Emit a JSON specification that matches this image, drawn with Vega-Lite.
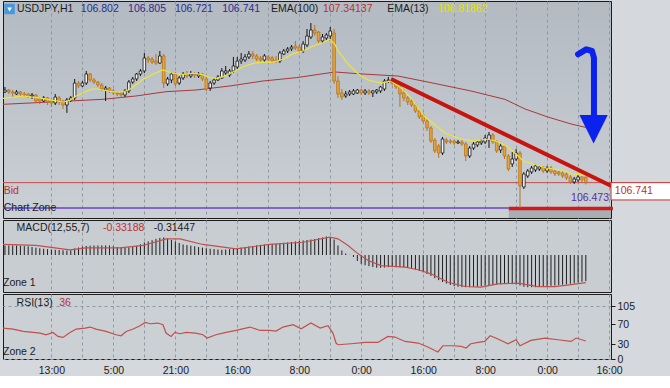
{
"$schema": "https://vega.github.io/schema/vega-lite/v6.json",
"padding": 0,
"background": "#d5d9dd",
"spacing": 0,
"config": {
 "view": {"stroke": "#1c1c1c", "strokeWidth": 1},
 "axis": {"labelFont": "Liberation Sans", "labelFontSize": 10.5, "labelColor": "#1c1c1c", "tickColor": "#1c1c1c", "domainColor": "#1c1c1c", "gridColor": "#8e99a4", "gridDash": [3, 3], "gridWidth": 1, "gridOpacity": 1},
 "text": {"font": "Liberation Sans", "fontSize": 10.5, "align": "left", "baseline": "middle"}
},
"datasets": {
 "bars": [
{"t":0,"o":107.726,"h":107.780,"l":107.715,"c":107.747,"m":0.115},
{"t":1,"o":107.747,"h":107.758,"l":107.704,"c":107.726,"m":0.115},
{"t":2,"o":107.726,"h":107.747,"l":107.671,"c":107.715,"m":0.115},
{"t":3,"o":107.704,"h":107.747,"l":107.693,"c":107.726,"m":0.115},
{"t":4,"o":107.726,"h":107.737,"l":107.682,"c":107.704,"m":0.111},
{"t":5,"o":107.704,"h":107.726,"l":107.671,"c":107.693,"m":0.107},
{"t":6,"o":107.704,"h":107.715,"l":107.661,"c":107.682,"m":0.105},
{"t":7,"o":107.682,"h":107.715,"l":107.650,"c":107.693,"m":0.096},
{"t":8,"o":107.693,"h":107.704,"l":107.606,"c":107.628,"m":0.088},
{"t":9,"o":107.650,"h":107.671,"l":107.595,"c":107.628,"m":0.081},
{"t":10,"o":107.628,"h":107.682,"l":107.617,"c":107.661,"m":0.075},
{"t":11,"o":107.661,"h":107.671,"l":107.584,"c":107.617,"m":0.070},
{"t":12,"o":107.628,"h":107.650,"l":107.563,"c":107.606,"m":0.066},
{"t":13,"o":107.606,"h":107.704,"l":107.584,"c":107.671,"m":0.063},
{"t":14,"o":107.661,"h":107.682,"l":107.584,"c":107.617,"m":0.060},
{"t":15,"o":107.617,"h":107.639,"l":107.541,"c":107.584,"m":0.057},
{"t":16,"o":107.584,"h":107.661,"l":107.498,"c":107.639,"m":0.054},
{"t":17,"o":107.639,"h":107.682,"l":107.617,"c":107.661,"m":0.058},
{"t":18,"o":107.661,"h":107.867,"l":107.639,"c":107.823,"m":0.078},
{"t":19,"o":107.823,"h":107.845,"l":107.769,"c":107.791,"m":0.090},
{"t":20,"o":107.791,"h":107.845,"l":107.780,"c":107.823,"m":0.100},
{"t":21,"o":107.823,"h":107.954,"l":107.802,"c":107.921,"m":0.109},
{"t":22,"o":107.921,"h":107.932,"l":107.834,"c":107.856,"m":0.112},
{"t":23,"o":107.856,"h":107.878,"l":107.813,"c":107.834,"m":0.115},
{"t":24,"o":107.834,"h":107.845,"l":107.780,"c":107.802,"m":0.115},
{"t":25,"o":107.802,"h":107.823,"l":107.737,"c":107.758,"m":0.115},
{"t":26,"o":107.747,"h":107.791,"l":107.628,"c":107.769,"m":0.115},
{"t":27,"o":107.769,"h":107.780,"l":107.715,"c":107.737,"m":0.115},
{"t":28,"o":107.737,"h":107.758,"l":107.693,"c":107.715,"m":0.105},
{"t":29,"o":107.715,"h":107.737,"l":107.682,"c":107.704,"m":0.096},
{"t":30,"o":107.715,"h":107.726,"l":107.661,"c":107.693,"m":0.090},
{"t":31,"o":107.693,"h":107.758,"l":107.671,"c":107.737,"m":0.087},
{"t":32,"o":107.737,"h":107.856,"l":107.715,"c":107.834,"m":0.093},
{"t":33,"o":107.834,"h":107.889,"l":107.813,"c":107.867,"m":0.099},
{"t":34,"o":107.867,"h":107.932,"l":107.845,"c":107.921,"m":0.109},
{"t":35,"o":107.921,"h":107.975,"l":107.899,"c":107.954,"m":0.129},
{"t":36,"o":107.954,"h":108.149,"l":107.932,"c":108.095,"m":0.151},
{"t":37,"o":108.095,"h":108.117,"l":108.040,"c":108.073,"m":0.163},
{"t":38,"o":108.084,"h":108.106,"l":108.030,"c":108.051,"m":0.178},
{"t":39,"o":108.062,"h":108.138,"l":108.019,"c":108.040,"m":0.195},
{"t":40,"o":108.040,"h":108.171,"l":108.030,"c":108.117,"m":0.206},
{"t":41,"o":108.117,"h":108.138,"l":107.769,"c":107.823,"m":0.212},
{"t":42,"o":107.813,"h":107.889,"l":107.791,"c":107.867,"m":0.198},
{"t":43,"o":107.856,"h":107.943,"l":107.823,"c":107.921,"m":0.181},
{"t":44,"o":107.921,"h":107.943,"l":107.791,"c":107.813,"m":0.164},
{"t":45,"o":107.823,"h":107.899,"l":107.802,"c":107.878,"m":0.145},
{"t":46,"o":107.878,"h":107.943,"l":107.856,"c":107.921,"m":0.127},
{"t":47,"o":107.921,"h":107.954,"l":107.878,"c":107.899,"m":0.119},
{"t":48,"o":107.899,"h":107.954,"l":107.878,"c":107.921,"m":0.112},
{"t":49,"o":107.921,"h":107.943,"l":107.878,"c":107.910,"m":0.105},
{"t":50,"o":107.899,"h":107.943,"l":107.878,"c":107.921,"m":0.096},
{"t":51,"o":107.921,"h":107.932,"l":107.845,"c":107.867,"m":0.089},
{"t":52,"o":107.867,"h":107.889,"l":107.737,"c":107.758,"m":0.082},
{"t":53,"o":107.769,"h":107.845,"l":107.737,"c":107.823,"m":0.075},
{"t":54,"o":107.823,"h":107.878,"l":107.802,"c":107.856,"m":0.071},
{"t":55,"o":107.856,"h":107.910,"l":107.845,"c":107.889,"m":0.066},
{"t":56,"o":107.878,"h":107.986,"l":107.867,"c":107.954,"m":0.063},
{"t":57,"o":107.932,"h":108.008,"l":107.910,"c":107.954,"m":0.066},
{"t":58,"o":107.910,"h":107.975,"l":107.889,"c":107.954,"m":0.070},
{"t":59,"o":107.954,"h":108.106,"l":107.932,"c":108.008,"m":0.074},
{"t":60,"o":107.997,"h":108.106,"l":107.975,"c":108.062,"m":0.077},
{"t":61,"o":108.062,"h":108.149,"l":108.030,"c":108.084,"m":0.089},
{"t":62,"o":108.073,"h":108.138,"l":108.051,"c":108.106,"m":0.095},
{"t":63,"o":108.106,"h":108.171,"l":108.084,"c":108.138,"m":0.102},
{"t":64,"o":108.138,"h":108.171,"l":108.084,"c":108.117,"m":0.109},
{"t":65,"o":108.117,"h":108.138,"l":108.062,"c":108.084,"m":0.116},
{"t":66,"o":108.095,"h":108.117,"l":108.051,"c":108.073,"m":0.122},
{"t":67,"o":108.073,"h":108.138,"l":108.051,"c":108.117,"m":0.127},
{"t":68,"o":108.106,"h":108.127,"l":108.062,"c":108.084,"m":0.130},
{"t":69,"o":108.095,"h":108.117,"l":108.040,"c":108.062,"m":0.134},
{"t":70,"o":108.073,"h":108.117,"l":108.040,"c":108.062,"m":0.135},
{"t":71,"o":108.062,"h":108.171,"l":108.040,"c":108.149,"m":0.141},
{"t":72,"o":108.138,"h":108.193,"l":108.127,"c":108.171,"m":0.147},
{"t":73,"o":108.171,"h":108.214,"l":108.149,"c":108.193,"m":0.151},
{"t":74,"o":108.193,"h":108.236,"l":108.171,"c":108.214,"m":0.157},
{"t":75,"o":108.225,"h":108.280,"l":108.182,"c":108.204,"m":0.163},
{"t":76,"o":108.214,"h":108.236,"l":108.149,"c":108.171,"m":0.169},
{"t":77,"o":108.171,"h":108.280,"l":108.149,"c":108.247,"m":0.175},
{"t":78,"o":108.236,"h":108.410,"l":108.214,"c":108.334,"m":0.181},
{"t":79,"o":108.323,"h":108.475,"l":108.301,"c":108.399,"m":0.187},
{"t":80,"o":108.399,"h":108.453,"l":108.334,"c":108.366,"m":0.193},
{"t":81,"o":108.377,"h":108.388,"l":108.258,"c":108.280,"m":0.203},
{"t":82,"o":108.280,"h":108.356,"l":108.258,"c":108.323,"m":0.211},
{"t":83,"o":108.312,"h":108.366,"l":108.290,"c":108.345,"m":0.223},
{"t":84,"o":108.334,"h":108.432,"l":108.280,"c":108.388,"m":0.217},
{"t":85,"o":108.366,"h":108.410,"l":107.813,"c":107.845,"m":0.187},
{"t":86,"o":107.845,"h":107.899,"l":107.661,"c":107.704,"m":0.115},
{"t":87,"o":107.715,"h":107.758,"l":107.639,"c":107.671,"m":0.054},
{"t":88,"o":107.682,"h":107.737,"l":107.661,"c":107.704,"m":0.018},
{"t":89,"o":107.704,"h":107.747,"l":107.682,"c":107.726,"m":0.002},
{"t":90,"o":107.704,"h":107.758,"l":107.693,"c":107.737,"m":-0.024},
{"t":91,"o":107.715,"h":107.758,"l":107.704,"c":107.747,"m":-0.072},
{"t":92,"o":107.747,"h":107.758,"l":107.693,"c":107.715,"m":-0.106},
{"t":93,"o":107.715,"h":107.758,"l":107.693,"c":107.737,"m":-0.123},
{"t":94,"o":107.737,"h":107.758,"l":107.693,"c":107.715,"m":-0.134},
{"t":95,"o":107.715,"h":107.747,"l":107.671,"c":107.737,"m":-0.145},
{"t":96,"o":107.726,"h":107.758,"l":107.704,"c":107.747,"m":-0.154},
{"t":97,"o":107.737,"h":107.791,"l":107.715,"c":107.780,"m":-0.154},
{"t":98,"o":107.758,"h":107.867,"l":107.737,"c":107.845,"m":-0.151},
{"t":99,"o":107.845,"h":107.889,"l":107.823,"c":107.856,"m":-0.147},
{"t":100,"o":107.856,"h":107.867,"l":107.802,"c":107.823,"m":-0.147},
{"t":101,"o":107.823,"h":107.845,"l":107.758,"c":107.780,"m":-0.147},
{"t":102,"o":107.780,"h":107.802,"l":107.563,"c":107.704,"m":-0.147},
{"t":103,"o":107.715,"h":107.758,"l":107.628,"c":107.661,"m":-0.150},
{"t":104,"o":107.661,"h":107.682,"l":107.584,"c":107.617,"m":-0.152},
{"t":105,"o":107.628,"h":107.661,"l":107.563,"c":107.584,"m":-0.160},
{"t":106,"o":107.584,"h":107.606,"l":107.498,"c":107.519,"m":-0.176},
{"t":107,"o":107.519,"h":107.541,"l":107.432,"c":107.454,"m":-0.192},
{"t":108,"o":107.476,"h":107.498,"l":107.389,"c":107.411,"m":-0.209},
{"t":109,"o":107.411,"h":107.432,"l":107.302,"c":107.335,"m":-0.229},
{"t":110,"o":107.335,"h":107.356,"l":107.172,"c":107.193,"m":-0.252},
{"t":111,"o":107.204,"h":107.226,"l":107.063,"c":107.085,"m":-0.279},
{"t":112,"o":107.139,"h":107.161,"l":107.009,"c":107.063,"m":-0.303},
{"t":113,"o":107.063,"h":107.237,"l":107.041,"c":107.215,"m":-0.326},
{"t":114,"o":107.204,"h":107.226,"l":107.161,"c":107.183,"m":-0.344},
{"t":115,"o":107.193,"h":107.215,"l":107.161,"c":107.183,"m":-0.361},
{"t":116,"o":107.193,"h":107.204,"l":107.150,"c":107.172,"m":-0.374},
{"t":117,"o":107.172,"h":107.204,"l":107.161,"c":107.183,"m":-0.382},
{"t":118,"o":107.183,"h":107.204,"l":107.139,"c":107.161,"m":-0.387},
{"t":119,"o":107.161,"h":107.183,"l":106.976,"c":107.030,"m":-0.388},
{"t":120,"o":107.030,"h":107.139,"l":107.009,"c":107.117,"m":-0.388},
{"t":121,"o":107.117,"h":107.183,"l":107.096,"c":107.161,"m":-0.385},
{"t":122,"o":107.150,"h":107.204,"l":107.128,"c":107.183,"m":-0.381},
{"t":123,"o":107.172,"h":107.215,"l":107.150,"c":107.193,"m":-0.376},
{"t":124,"o":107.183,"h":107.259,"l":107.161,"c":107.226,"m":-0.371},
{"t":125,"o":107.204,"h":107.291,"l":107.117,"c":107.259,"m":-0.368},
{"t":126,"o":107.259,"h":107.280,"l":107.161,"c":107.183,"m":-0.363},
{"t":127,"o":107.183,"h":107.204,"l":107.063,"c":107.085,"m":-0.357},
{"t":128,"o":107.096,"h":107.172,"l":107.063,"c":107.139,"m":-0.353},
{"t":129,"o":107.139,"h":107.150,"l":106.998,"c":107.030,"m":-0.350},
{"t":130,"o":107.030,"h":107.052,"l":106.868,"c":106.889,"m":-0.347},
{"t":131,"o":106.944,"h":107.074,"l":106.911,"c":106.998,"m":-0.352},
{"t":132,"o":106.998,"h":107.107,"l":106.976,"c":107.063,"m":-0.357},
{"t":133,"o":107.063,"h":107.085,"l":106.466,"c":106.705,"m":-0.368},
{"t":134,"o":106.694,"h":106.857,"l":106.672,"c":106.835,"m":-0.383},
{"t":135,"o":106.813,"h":106.889,"l":106.792,"c":106.868,"m":-0.388},
{"t":136,"o":106.857,"h":106.922,"l":106.835,"c":106.900,"m":-0.388},
{"t":137,"o":106.879,"h":106.944,"l":106.857,"c":106.922,"m":-0.388},
{"t":138,"o":106.889,"h":106.922,"l":106.868,"c":106.911,"m":-0.383},
{"t":139,"o":106.911,"h":106.922,"l":106.846,"c":106.868,"m":-0.379},
{"t":140,"o":106.868,"h":106.922,"l":106.846,"c":106.900,"m":-0.375},
{"t":141,"o":106.900,"h":106.922,"l":106.835,"c":106.857,"m":-0.371},
{"t":142,"o":106.868,"h":106.889,"l":106.813,"c":106.835,"m":-0.368},
{"t":143,"o":106.857,"h":106.868,"l":106.813,"c":106.835,"m":-0.363},
{"t":144,"o":106.846,"h":106.868,"l":106.792,"c":106.813,"m":-0.358},
{"t":145,"o":106.835,"h":106.857,"l":106.770,"c":106.792,"m":-0.353},
{"t":146,"o":106.803,"h":106.824,"l":106.727,"c":106.748,"m":-0.347},
{"t":147,"o":106.748,"h":106.803,"l":106.727,"c":106.781,"m":-0.341},
{"t":148,"o":106.770,"h":106.824,"l":106.748,"c":106.803,"m":-0.330},
{"t":149,"o":106.803,"h":106.813,"l":106.737,"c":106.770,"m":-0.322},
{"t":150,"o":106.802,"h":106.805,"l":106.721,"c":106.741,"m":-0.314}
 ],
 "ema13": [
{"t":-0.5,"p":107.657},{"t":4.7,"p":107.682},{"t":9.8,"p":107.657},{"t":12.4,"p":107.635},{"t":15,"p":107.617},{"t":16.8,"p":107.635},{"t":18.4,"p":107.682},{"t":20.2,"p":107.718},{"t":22,"p":107.751},{"t":23.5,"p":107.761},{"t":25.3,"p":107.747},{"t":27.9,"p":107.726},{"t":30.5,"p":107.726},{"t":32.3,"p":107.755},{"t":33.8,"p":107.802},{"t":35.7,"p":107.864},{"t":38.2,"p":107.918},{"t":40.8,"p":107.965},{"t":43.4,"p":107.929},{"t":46,"p":107.918},{"t":48.6,"p":107.929},{"t":51.1,"p":107.914},{"t":53,"p":107.881},{"t":54.5,"p":107.874},{"t":56.3,"p":107.892},{"t":58.9,"p":107.943},{"t":61.5,"p":108.0},{"t":64.1,"p":108.037},{"t":66.6,"p":108.051},{"t":69.2,"p":108.051},{"t":71.8,"p":108.081},{"t":74.4,"p":108.142},{"t":77,"p":108.171},{"t":79.6,"p":108.225},{"t":82.1,"p":108.261},{"t":83.9,"p":108.298},{"t":85.2,"p":108.244},{"t":86,"p":108.171},{"t":88.6,"p":108.03},{"t":91.2,"p":107.921},{"t":93.8,"p":107.856},{"t":97.1,"p":107.823},{"t":99.7,"p":107.845},{"t":102.3,"p":107.769},{"t":104.9,"p":107.661},{"t":106.7,"p":107.552},{"t":108.5,"p":107.454},{"t":111.1,"p":107.367},{"t":113.6,"p":107.28},{"t":117.8,"p":107.215},{"t":121.4,"p":107.193},{"t":124.2,"p":107.215},{"t":126.8,"p":107.193},{"t":129.4,"p":107.139},{"t":132,"p":107.052},{"t":133.8,"p":106.976},{"t":136.4,"p":106.944},{"t":139.7,"p":106.9},{"t":143.3,"p":106.879},{"t":146.7,"p":106.835},{"t":150,"p":106.819}
 ],
 "ema100": [
{"t":-0.5,"p":107.592},{"t":8,"p":107.609},{"t":16.8,"p":107.628},{"t":25.3,"p":107.646},{"t":33.8,"p":107.682},{"t":41.6,"p":107.729},{"t":49.3,"p":107.747},{"t":58.1,"p":107.791},{"t":66.6,"p":107.845},{"t":75.2,"p":107.881},{"t":85.2,"p":107.943},{"t":91.2,"p":107.924},{"t":101.5,"p":107.899},{"t":110,"p":107.827},{"t":120.3,"p":107.737},{"t":129.1,"p":107.646},{"t":134.3,"p":107.541},{"t":140.2,"p":107.454},{"t":146.2,"p":107.378},{"t":150,"p":107.341}
 ],
 "signal": [
{"t":-0.5,"v":0.127},{"t":8,"v":0.115},{"t":16.8,"v":0.063},{"t":20.9,"v":0.087},{"t":29.7,"v":0.087},{"t":35.7,"v":0.115},{"t":41.6,"v":0.195},{"t":45.2,"v":0.195},{"t":51.1,"v":0.127},{"t":59.7,"v":0.075},{"t":68.4,"v":0.127},{"t":77,"v":0.154},{"t":83.9,"v":0.215},{"t":86,"v":0.195},{"t":88.6,"v":0.115},{"t":91.2,"v":0.014},{"t":93.8,"v":-0.066},{"t":97.1,"v":-0.127},{"t":103.3,"v":-0.147},{"t":106.7,"v":-0.178},{"t":110,"v":-0.227},{"t":114.4,"v":-0.328},{"t":118.8,"v":-0.38},{"t":122.9,"v":-0.388},{"t":127.3,"v":-0.347},{"t":132.5,"v":-0.34},{"t":137.6,"v":-0.38},{"t":142,"v":-0.38},{"t":146.2,"v":-0.356},{"t":150,"v":-0.332}
 ],
 "rsi": [
{"t":-0.5,"v":61.9},{"t":2.1,"v":59.9},{"t":4.7,"v":55.1},{"t":7.3,"v":53.1},{"t":9.1,"v":51.9},{"t":10.6,"v":48.5},{"t":12.4,"v":53.1},{"t":13.7,"v":45.1},{"t":15,"v":43.1},{"t":16.8,"v":53.1},{"t":18.4,"v":59.9},{"t":20.7,"v":61.9},{"t":22,"v":63.9},{"t":23.5,"v":59.9},{"t":26.1,"v":55.1},{"t":28.7,"v":48.5},{"t":30,"v":46.5},{"t":31.3,"v":55.1},{"t":33.1,"v":59.9},{"t":34.9,"v":66.5},{"t":36.2,"v":73.1},{"t":37.5,"v":70.5},{"t":39.5,"v":71.9},{"t":40.8,"v":68.5},{"t":41.6,"v":51.9},{"t":42.9,"v":45.1},{"t":43.9,"v":53.1},{"t":45.2,"v":50.5},{"t":46.8,"v":53.1},{"t":49.3,"v":51.9},{"t":51.1,"v":48.5},{"t":52.2,"v":41.9},{"t":54.5,"v":48.5},{"t":57.1,"v":53.1},{"t":59.7,"v":57.1},{"t":63.3,"v":63.9},{"t":65.9,"v":57.1},{"t":68.4,"v":57.1},{"t":70,"v":55.9},{"t":71.8,"v":63.9},{"t":74.4,"v":68.5},{"t":76.5,"v":60.5},{"t":79,"v":71.9},{"t":81.4,"v":61.9},{"t":83.4,"v":66.5},{"t":84.7,"v":51.9},{"t":85.5,"v":31.9},{"t":86,"v":28.5},{"t":89.4,"v":30.5},{"t":93,"v":33.1},{"t":96.3,"v":33.1},{"t":98.9,"v":45.1},{"t":100.7,"v":43.9},{"t":103.3,"v":35.1},{"t":106.7,"v":31.9},{"t":109.2,"v":24},{"t":111.8,"v":14},{"t":113.1,"v":26.5},{"t":115.7,"v":26.5},{"t":117.8,"v":25.1},{"t":119.1,"v":22},{"t":120.3,"v":30.5},{"t":122.2,"v":33.1},{"t":123.9,"v":35.1},{"t":125.3,"v":46.5},{"t":127.3,"v":39.9},{"t":129.9,"v":30.5},{"t":132,"v":38.5},{"t":133,"v":26.5},{"t":135.8,"v":37.1},{"t":139.5,"v":41.9},{"t":142.8,"v":38.5},{"t":146.2,"v":35.1},{"t":147.5,"v":41.9},{"t":150,"v":36}
 ],
 "mainNotes": [
{"t":3.1,"p":108.627,"txt":"USDJPY,H1","kind":"dark"},
{"t":19.6,"p":108.627,"txt":"106.802","kind":"blue"},
{"t":31.8,"p":108.627,"txt":"106.805","kind":"blue"},
{"t":43.9,"p":108.627,"txt":"106.721","kind":"blue"},
{"t":56.1,"p":108.627,"txt":"106.741","kind":"blue"},
{"t":68.7,"p":108.627,"txt":"EMA(100)","kind":"dark"},
{"t":82.1,"p":108.627,"txt":"107.34137","kind":"red"},
{"t":98.7,"p":108.627,"txt":"EMA(13)","kind":"dark"},
{"t":111.8,"p":108.627,"txt":"106.81862","kind":"yellow"},
{"t":-0.3,"p":106.655,"txt":"Bid","kind":"red"},
{"t":-0.3,"p":106.463,"txt":"Chart Zone","kind":"dark"},
{"t":157.5,"p":106.647,"txt":"106.741","kind":"red"}
 ],
 "macdNotes": [
{"t":3.0,"v":0.328,"txt":"MACD(12,55,7)","kind":"dark"},
{"t":25.3,"v":0.328,"txt":"-0.33188","kind":"red"},
{"t":38.4,"v":0.328,"txt":"-0.31447","kind":"dark"},
{"t":-0.5,"v":-0.332,"txt":"Zone 1","kind":"dark"}
 ],
 "rsiNotes": [
{"t":3.0,"v":112.6,"txt":"RSI(13)","kind":"dark"},
{"t":14.0,"v":112.6,"txt":"36","kind":"red"},
{"t":-0.5,"v":14.6,"txt":"Zone 2","kind":"dark"}
 ]
},
"vconcat": [
 {
  "width": 608, "height": 217,
  "view": {"fill": {"gradient": "linear", "x1": 0, "y1": 0, "x2": 0, "y2": 1, "stops": [{"offset": 0, "color": "#b3bac2"}, {"offset": 1, "color": "#cbd0d5"}]}, "stroke": "#1c1c1c"},
  "encoding": {
   "x": {"field": "t", "type": "quantitative", "scale": {"domain": [-0.5, 156.5], "nice": false, "zero": false, "padding": 0}, "axis": {"values": [12,20,28,36,44,52,60,68,76,84,92,100,108,116,124,132,140,148,156], "labels": false, "ticks": false, "domain": false, "grid": true, "title": null}},
   "y": {"field": "p", "type": "quantitative", "scale": {"domain": [106.357, 108.714], "nice": false, "zero": false}, "axis": {"orient": "right", "values": [108.562, 108.14, 107.805, 107.47, 107.135, 106.8, 106.379], "format": ".3f", "grid": true, "tickSize": 4, "labelPadding": 2, "title": null}}
  },
  "layer": [
   {"data": {"values": [{"t": 130.1, "t2": 156.5, "p": 106.46, "p2": 106.357}]}, "mark": {"type": "rect", "color": "#a9aeb4"}, "encoding": {"x2": {"field": "t2"}, "y2": {"field": "p2"}}},
   {"data": {"values": [{"t": -0.5, "t2": 156.5, "p": 106.741}]}, "mark": {"type": "rule", "color": "#c44c4c", "strokeWidth": 1}, "encoding": {"x2": {"field": "t2"}}},
   {"data": {"values": [{"t": -0.5, "t2": 130.1, "p": 106.466}]}, "mark": {"type": "rule", "color": "#6a44c4", "strokeWidth": 1.5}, "encoding": {"x2": {"field": "t2"}}},
   {"data": {"values": [{"t": 130.1, "t2": 157, "p": 106.46}]}, "mark": {"type": "rule", "color": "#d21a1a", "strokeWidth": 3.5}, "encoding": {"x2": {"field": "t2"}}},
   {"data": {"name": "ema100"}, "mark": {"type": "line", "color": "#a93838", "strokeWidth": 1}},
   {"data": {"name": "bars"}, "mark": {"type": "rule", "strokeWidth": 1},
    "encoding": {"y": {"field": "l", "type": "quantitative", "scale": {"domain": [106.357, 108.714], "nice": false, "zero": false}, "axis": null}, "y2": {"field": "h"},
     "color": {"condition": {"test": "datum.c >= datum.o", "value": "#151515"}, "value": "#b8741a"}}},
   {"data": {"name": "bars"}, "mark": {"type": "bar", "size": 2.6, "strokeWidth": 0.8},
    "encoding": {"y": {"field": "o", "type": "quantitative", "scale": {"domain": [106.357, 108.714], "nice": false, "zero": false}, "axis": null}, "y2": {"field": "c"},
     "fill": {"condition": {"test": "datum.c >= datum.o", "value": "#f4f4f4"}, "value": "#e6a23c"},
     "stroke": {"condition": {"test": "datum.c >= datum.o", "value": "#151515"}, "value": "#b8741a"}}},
   {"data": {"name": "ema13"}, "mark": {"type": "line", "color": "#eee634", "strokeWidth": 1.2}},
   {"data": {"values": [{"t": 99.7, "p": 107.867}, {"t": 157, "p": 106.697}]}, "mark": {"type": "line", "color": "#c8140f", "strokeWidth": 4}},
   {"data": {"values": [{"i": 0, "t": 148.0, "p": 108.135}, {"i": 1, "t": 150.1, "p": 108.189}, {"i": 2, "t": 151.6, "p": 108.171}, {"i": 3, "t": 152.1, "p": 108.098}, {"i": 4, "t": 152.1, "p": 107.447}]},
    "mark": {"type": "line", "color": "#0b22ee", "strokeWidth": 6, "strokeCap": "round", "strokeJoin": "round"}, "encoding": {"order": {"field": "i", "type": "quantitative"}}},
   {"data": {"values": [{"t": 152.0, "p": 107.321}]}, "mark": {"type": "point", "shape": "M-1,-1L1,-1L0,1Z", "size": 800, "filled": true, "opacity": 1, "color": "#0b22ee"}},
   {"data": {"values": [{"t": 156.5, "t2": 172, "p": 106.741, "p2": 106.553}]}, "mark": {"type": "rect", "fill": "#ffffff", "stroke": "#c43030", "strokeWidth": 1}, "encoding": {"x2": {"field": "t2"}, "y2": {"field": "p2"}}},
   {"data": {"name": "mainNotes"}, "mark": {"type": "text"},
    "encoding": {"text": {"field": "txt"}, "color": {"field": "kind", "type": "nominal", "scale": {"domain": ["dark", "blue", "red", "yellow", "purple"], "range": ["#1c1c1c", "#2d2d8f", "#b83232", "#e4e000", "#5b2e9e"]}, "legend": null}}},
   {"data": {"values": [{"t": 156.0, "p": 106.574, "txt": "106.473"}]}, "mark": {"type": "text", "align": "right", "color": "#5b2e9e"}, "encoding": {"text": {"field": "txt"}}},
   {"data": {"values": [{"t": 1.2, "p": 108.627}]}, "mark": {"type": "square", "size": 110, "color": "#4b97de", "opacity": 1}},
   {"data": {"values": [{"t": 1.2, "p": 108.622}]}, "mark": {"type": "point", "shape": "triangle-down", "size": 22, "filled": true, "opacity": 1, "color": "#ffffff"}}
  ]
 },
 {
  "width": 608, "height": 72,
  "view": {"fill": "#c8cdd2", "stroke": "#1c1c1c"},
  "encoding": {
   "x": {"field": "t", "type": "quantitative", "scale": {"domain": [-0.5, 156.5], "nice": false, "zero": false, "padding": 0}, "axis": {"values": [12,20,28,36,44,52,60,68,76,84,92,100,108,116,124,132,140,148,156], "labels": false, "ticks": false, "domain": false, "grid": true, "title": null}},
   "y": {"field": "v", "type": "quantitative", "scale": {"domain": [-0.446, 0.422], "nice": false, "zero": false}, "axis": {"orient": "right", "values": [0.26356, -0.42373], "format": ".5f", "grid": true, "tickSize": 4, "labelPadding": 2, "title": null}}
  },
  "layer": [
   {"data": {"name": "bars"}, "mark": {"type": "rule", "color": "#1e1e1e", "strokeWidth": 1},
    "encoding": {"y": {"field": "m", "type": "quantitative", "scale": {"domain": [-0.446, 0.422], "nice": false, "zero": false}, "axis": null}, "y2": {"datum": 0}}},
   {"data": {"name": "signal"}, "mark": {"type": "line", "color": "#c0504c", "strokeWidth": 1.2}},
   {"data": {"name": "macdNotes"}, "mark": {"type": "text"},
    "encoding": {"text": {"field": "txt"}, "color": {"field": "kind", "type": "nominal", "scale": {"domain": ["dark", "blue", "red", "yellow", "purple"], "range": ["#1c1c1c", "#2d2d8f", "#b83232", "#e4e000", "#5b2e9e"]}, "legend": null}}}
  ]
 },
 {
  "width": 608, "height": 65,
  "view": {"fill": "#cbd0d4", "stroke": "#1c1c1c"},
  "encoding": {
   "x": {"field": "t", "type": "quantitative", "scale": {"domain": [-0.5, 156.5], "nice": false, "zero": false, "padding": 0}, "axis": {"values": [12,20,28,36,44,52,60,68,76,84,92,100,108,116,124,132,140,148,156], "labelExpr": "['13:00','5:00','21:00','16:00','8:00','0:00','16:00','8:00','0:00','16:00'][(datum.value-12)/16] || ''", "labelOverlap": false, "labelPadding": 6, "ticks": false, "domain": false, "grid": true, "title": null}},
   "y": {"field": "v", "type": "quantitative", "scale": {"domain": [0, 130], "nice": false, "zero": false}, "axis": {"orient": "right", "values": [105, 70, 30, 0], "grid": true, "gridOpacity": {"condition": {"test": "datum.value == 105 || datum.value == 0", "value": 1}, "value": 0}, "tickSize": 4, "labelPadding": 2, "title": null}}
  },
  "layer": [
   {"data": {"name": "rsi"}, "mark": {"type": "line", "color": "#c0504c", "strokeWidth": 1.2}},
   {"data": {"name": "rsiNotes"}, "mark": {"type": "text"},
    "encoding": {"text": {"field": "txt"}, "color": {"field": "kind", "type": "nominal", "scale": {"domain": ["dark", "blue", "red", "yellow", "purple"], "range": ["#1c1c1c", "#2d2d8f", "#b83232", "#e4e000", "#5b2e9e"]}, "legend": null}}}
  ]
 }
]
}
